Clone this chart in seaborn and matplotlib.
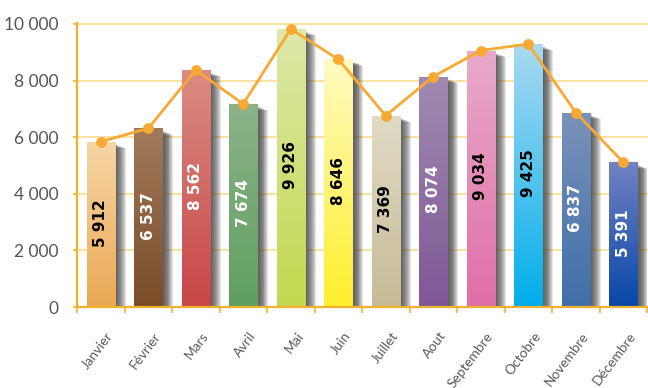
import numpy as np
import pandas as pd
import matplotlib
matplotlib.use("Agg")
import matplotlib.pyplot as plt
import matplotlib.patheffects as pe
from matplotlib.colors import LinearSegmentedColormap
from matplotlib.transforms import ScaledTranslation
import seaborn as sns

# ---- data ----
months = ["Janvier", "Février", "Mars", "Avril", "Mai", "Juin", "Juillet",
          "Aout", "Septembre", "Octobre", "Novembre", "Décembre"]
values = [5840, 6310, 8370, 7170, 9820, 8750, 6760, 8140, 9060, 9290, 6870, 5110]
value_labels = ["5 912", "6 537", "8 562", "7 674", "9 926", "8 646", "7 369",
                "8 074", "9 034", "9 425", "6 837", "5 391"]
top_colors = ["#F6D6A6", "#A27A5A", "#DA8C82", "#8CB28A", "#DDE9AA", "#FFFAC2",
              "#E1DBC6", "#A18AB2", "#E9AACA", "#AADAF2", "#7A92BA", "#7282C2"]
bottom_colors = ["#EBA954", "#7A4C28", "#C84646", "#5FA05E", "#C3D84E", "#FFEE2C",
                 "#C7BB96", "#7F5796", "#E06FA7", "#00AEEA", "#3F6FA8", "#0747A8"]
label_colors = ["black", "white", "white", "white", "black", "black", "black",
                "white", "black", "black", "white", "white"]
yticks = [0, 2000, 4000, 6000, 8000, 10000]
ytick_labels = ["0", "2 000", "4 000", "6 000", "8 000", "10 000"]

df = pd.DataFrame({"month": months, "value": values})

sns.set_theme(style="white")
plt.rcParams["font.family"] = ["Lato", "DejaVu Sans"]

W, H = 648, 388
fig = plt.figure(figsize=(W / 100, H / 100), dpi=100)
left, right, bottom, top = 77, 647, 307, 23
ax = fig.add_axes([left / W, 1 - bottom / H, (right - left) / W, (bottom - top) / H])

orange = "#F0B12E"
grid_c = "#FBE2A0"

sns.barplot(data=df, x="month", y="value", ax=ax, color=bottom_colors[0],
            width=0.59, saturation=1, zorder=3)

# soft shadow: many light layers with growing offsets (points)
shadow = []
for k in range(1, 13):
    o = 0.65 * k
    shadow.append(pe.SimplePatchShadow(offset=(o, -1.5 - 0.25 * k),
                                       shadow_rgbFace="#3a3a3a", alpha=0.13))

for i, p in enumerate(ax.patches):
    p.set_facecolor(bottom_colors[i])
    p.set_edgecolor("none")
    p.set_path_effects(shadow + [pe.Normal()])
    x0, y0 = p.get_x(), p.get_y()
    w, h = p.get_width(), p.get_height()
    cmap = LinearSegmentedColormap.from_list("g", [bottom_colors[i], top_colors[i]])
    grad = np.linspace(0, 1, 256).reshape(-1, 1)
    im = ax.imshow(grad, extent=[x0, x0 + w, y0, y0 + h], origin="lower",
                   aspect="auto", cmap=cmap, zorder=4, interpolation="bilinear")
    im.set_clip_path(p)
    ax.text(x0 + w / 2, h * 0.51, value_labels[i], rotation=90, ha="center",
            va="center", fontsize=11, fontweight="bold", color=label_colors[i],
            family=["DejaVu Sans"], zorder=6)

sns.lineplot(data=df, x="month", y="value", ax=ax, color="#F7A933", linewidth=2,
             marker="o", markersize=7, markeredgecolor="#F7A933", zorder=7, sort=False)

ax.set_xlim(-0.5, len(months) - 0.5)
ax.set_ylim(0, 10000 * (283.9 / 283))

# grid
ax.set_yticks(yticks)
ax.set_yticklabels(ytick_labels)
for yv in yticks[1:]:
    ax.axhline(yv, color=grid_c, lw=1.4, zorder=1, clip_on=False)

for s in ["top", "right"]:
    ax.spines[s].set_visible(False)
for s in ["left", "bottom"]:
    ax.spines[s].set_color(orange)
    ax.spines[s].set_linewidth(1.6)
    ax.spines[s].set_zorder(8)

ax.tick_params(axis="y", length=3, width=1.2, color=orange, pad=10,
               labelsize=12.5, labelcolor="#555555", left=True)
ax.set_xticks(range(len(months)))
ax.set_xticklabels(months, rotation=53, ha="right", rotation_mode="anchor",
                   fontsize=9.8, color="#5a5a5a")
ax.set_xticks(np.arange(-0.5, len(months), 1), minor=True)
ax.tick_params(axis="x", which="major", length=0, pad=19)
ax.tick_params(axis="x", which="minor", length=4, width=1.2, color=orange,
               direction="out", bottom=True)
offset = ScaledTranslation(0.10, 0, fig.dpi_scale_trans)
for lab in ax.get_xticklabels():
    lab.set_transform(lab.get_transform() + offset)
    lab.set_va("center")

ax.set_xlabel("")
ax.set_ylabel("")
ax.grid(False)

fig.savefig("out.png", dpi=100)
